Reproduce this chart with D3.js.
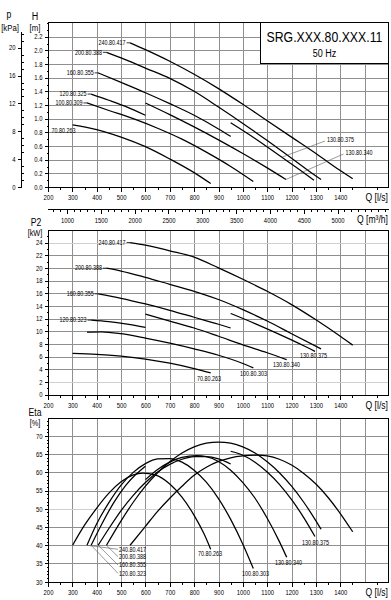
<!DOCTYPE html>
<html><head><meta charset="utf-8">
<script src="https://cdn.jsdelivr.net/npm/d3@7"></script>
<style>
html,body{margin:0;padding:0;background:#fff;}
svg{display:block;font-family:"Liberation Sans",Arial,sans-serif;}
</style></head><body>
<svg id="c" width="391" height="600"></svg>
<script>
// ---------- DATA ----------
const qTicks = [200,300,400,500,600,700,800,900,1000,1100,1200,1300,1400];
const qGrid = [300,400,500,600,700,800,900,1000,1100,1200,1300,1400,1500];
const m3hTicks = [1000,1500,2000,2500,3000,3500,4000,4500,5000];
const hTicks = [0,0.2,0.4,0.6,0.8,1.0,1.2,1.4,1.6,1.8,2.0,2.2];
const kpaTicks = [0,4,8,12,16,20];
const p2Ticks = [0,2,4,6,8,10,12,14,16,18,20,22,24];
const etaTicks = [30,35,40,45,50,55,60,65,70];

// Head H [m] vs Q [l/s]
const head_240_80_417 = [[537,2.11],[600,2.01],[700,1.84],[800,1.65],[900,1.44],[1000,1.21],[1100,0.97],[1200,0.73],[1300,0.49],[1400,0.24],[1451,0.12]];
const head_200_80_388 = [[440,1.97],[500,1.89],[600,1.74],[700,1.59],[800,1.40],[900,1.17],[1000,0.93],[1100,0.68],[1200,0.42],[1300,0.16],[1321,0.11]];
const head_160_80_355 = [[406,1.67],[500,1.53],[600,1.38],[700,1.22],[800,1.05],[900,0.85],[950,0.74]];
const head_120_80_325 = [[377,1.36],[450,1.27],[525,1.17],[600,1.05]];
const head_100_80_303 = [[360,1.23],[450,1.12],[550,1.00],[650,0.86],[750,0.70],[850,0.51],[950,0.30],[1043,0.08]];
const head_70_80_263  = [[301,0.91],[400,0.84],[500,0.73],[600,0.59],[700,0.41],[800,0.21],[868,0.05]];
const head_130_80_340 = [[600,1.23],[700,1.06],[800,0.88],[900,0.69],[1000,0.49],[1100,0.28],[1177,0.11]];
const head_130_80_375 = [[950,0.94],[1050,0.71],[1150,0.46],[1250,0.21],[1292,0.10]];

// Power P2 [kW] vs Q
const p2_240_80_417 = [[537,24.0],[600,23.6],[700,22.7],[800,21.7],[900,20.0],[1000,18.2],[1100,16.3],[1200,14.2],[1300,11.8],[1400,9.2],[1451,7.8]];
const p2_200_80_388 = [[440,19.95],[500,19.5],[600,18.5],[700,17.4],[800,16.3],[900,15.0],[1000,13.4],[1100,11.6],[1200,9.6],[1321,7.2]];
const p2_160_80_355 = [[406,15.9],[500,15.2],[600,14.3],[700,13.3],[800,12.2],[900,11.1],[950,10.5]];
const p2_120_80_323 = [[377,11.75],[450,11.5],[525,11.1],[600,10.6]];
const p2_100_80_303 = [[360,9.85],[420,9.9],[500,9.6],[600,8.9],[700,8.1],[800,7.2],[900,6.2],[1000,4.9],[1043,4.2]];
const p2_70_80_263  = [[301,6.5],[400,6.35],[500,6.05],[600,5.6],[700,4.95],[800,4.1],[868,3.4]];
const p2_130_80_340 = [[600,12.7],[700,11.6],[800,10.5],[900,9.2],[1000,7.85],[1100,6.6],[1180,5.5]];
const p2_130_80_375 = [[950,12.8],[1050,11.2],[1150,9.5],[1250,7.7],[1296,6.8]];

// Efficiency Eta [%] vs Q
const eta_240_80_417 = [[537,40],[600,45.2],[650,49.3],[700,52.9],[750,56.2],[800,59.2],[850,61.4],[900,63.0],[950,64.0],[1000,64.5],[1060,64.7],[1100,64.5],[1150,63.6],[1200,62.0],[1250,59.7],[1300,56.8],[1350,53.1],[1400,48.7],[1451,43.7]];
const eta_200_80_388 = [[440,40],[500,46.7],[550,51.8],[600,56.2],[650,59.9],[700,62.9],[750,65.3],[800,67.0],[850,68.0],[900,68.3],[950,68.0],[1000,67.0],[1050,65.3],[1100,62.9],[1150,59.9],[1200,56.2],[1250,51.8],[1300,46.7],[1321,44.4]];
const eta_160_80_355 = [[406,40],[450,44.6],[500,49.5],[550,53.7],[600,57.2],[650,60.1],[700,62.2],[750,63.6],[800,64.3],[850,64.3],[900,63.7],[950,62.3]];
const eta_120_80_323 = [[377,40],[420,45.7],[470,51.7],[520,56.5],[560,59.4],[600,61.7]];
const eta_100_80_303 = [[360,40],[400,45.9],[450,51.7],[500,56.5],[550,60.0],[600,62.4],[650,63.7],[700,63.8],[750,62.8],[800,60.6],[850,57.3],[900,52.8],[950,47.1],[1000,40.3],[1043,33.6]];
const eta_70_80_263  = [[301,40],[350,45.5],[400,50.2],[450,54.3],[500,57.4],[550,59.3],[590,59.8],[640,59.3],[700,56.8],[750,53.2],[800,48.2],[840,43.2],[868,38.9]];
const eta_130_80_340 = [[600,58.0],[650,60.8],[700,62.8],[750,64.1],[810,64.6],[850,64.3],[900,63.0],[950,60.6],[1000,57.2],[1050,52.9],[1100,47.4],[1150,41.0],[1180,36.7]];
const eta_130_80_375 = [[950,65.8],[1000,64.7],[1050,62.8],[1100,60.1],[1150,56.7],[1200,52.5],[1250,47.6],[1296,42.4]];

const title = "SRG.XXX.80.XXX.11";
const subtitle = "50 Hz";

// ---------- DRAWING ----------
const svg = d3.select("#c");
const L = 48, R = 389;
const x = d3.scaleLinear().domain([200,1600]).range([L,R]);
const xm3h = d3.scaleLinear().domain([200*3.6,1600*3.6]).range([L,R]);

const panels = {
  top: {y0:22, y1:187},
  mid: {y0:230, y1:394.5},
  bot: {y0:417.5, y1:581.7}
};
const yH = d3.scaleLinear().domain([0,2.4]).range([187,23]);
const yKpa = d3.scaleLinear().domain([0,2.4*9.81]).range([187,23]);
const yP2 = d3.scaleLinear().domain([0,26]).range([394.5,229.9]);
const yEta = d3.scaleLinear().domain([30,75]).range([581.7,417.7]);

const TICKF = 7.2, LBLF = 6.6, TITF = 10.5;
const gridC = "#8f8f8f";

function grid(p, yScale, vals, lightVals){
  const g = svg.append("g").attr("shape-rendering","crispEdges");
  g.selectAll("line.v").data(qGrid).enter().append("line")
    .attr("x1",d=>Math.round(x(d))+0.5).attr("x2",d=>Math.round(x(d))+0.5)
    .attr("y1",p.y0).attr("y2",p.y1).attr("stroke",gridC).attr("stroke-width",1);
  g.selectAll("line.h").data(vals).enter().append("line")
    .attr("x1",L).attr("x2",R)
    .attr("y1",d=>Math.round(yScale(d))+0.5).attr("y2",d=>Math.round(yScale(d))+0.5)
    .attr("stroke",d=>lightVals.includes(d)?"#cfcfcf":gridC).attr("stroke-width",1);
}
function frame(p){
  svg.append("rect").attr("x",L+0.5).attr("y",Math.round(p.y0)+0.5)
    .attr("width",R-L-1).attr("height",Math.round(p.y1)-Math.round(p.y0))
    .attr("fill","none").attr("stroke","#000").attr("stroke-width",1).attr("shape-rendering","crispEdges");
}
function styleAxis(g){
  g.selectAll("path.domain").remove();
  g.selectAll("line").attr("stroke","#000").attr("shape-rendering","crispEdges");
  g.selectAll("text").attr("font-size",TICKF).attr("fill","#000");
  g.attr("font-family",null).attr("font-size",null);
}
function xAxis(p){
  const g = svg.append("g").attr("transform",`translate(0,${Math.round(p.y1)+0.5})`)
    .call(d3.axisBottom(x).tickValues(qTicks).tickSize(4).tickPadding(3).tickFormat(d3.format("d")));
  styleAxis(g);
  const gm = svg.append("g").attr("transform",`translate(0,${Math.round(p.y1)+0.5})`)
    .call(d3.axisBottom(x).tickValues([250,350,450,550,650,750,850,950,1050,1150,1250,1350,1450,1550]).tickSize(2).tickFormat(""));
  styleAxis(gm);
  svg.append("text").attr("x",R-1).attr("y",Math.round(p.y1)+14.5).attr("text-anchor","end")
    .attr("font-size",TITF).text("Q [l/s]");
}
function yAxis(yScale, major, minor, fmt){
  const g = svg.append("g").attr("transform",`translate(${L+0.5},0)`)
    .call(d3.axisLeft(yScale).tickValues(major).tickSize(4).tickPadding(2).tickFormat(fmt));
  styleAxis(g);
  const gm = svg.append("g").attr("transform",`translate(${L+0.5},0)`)
    .call(d3.axisLeft(yScale).tickValues(minor).tickSize(2).tickFormat(""));
  styleAxis(gm);
}
const line = (ys)=> d3.line().x(d=>x(d[0])).y(d=>ys(d[1])).curve(d3.curveMonotoneX);
function curves(list, ys){
  svg.append("g").selectAll("path").data(list).enter().append("path")
    .attr("d",d=>line(ys)(d)).attr("fill","none").attr("stroke","#000").attr("stroke-width",1.25);
}
function label(txt, xx, yy, anchor){
  svg.append("text").attr("x",xx).attr("y",yy+2.3).attr("text-anchor",anchor||"start")
    .attr("font-size",LBLF).attr("fill","#000").text(txt);
}
function leader(x1,y1,x2,y2){
  svg.append("line").attr("x1",x1).attr("y1",y1).attr("x2",x2).attr("y2",y2)
    .attr("stroke","#555").attr("stroke-width",0.6);
}
function startLabel(txt, data, ys){
  const sx = x(data[0][0]), sy = ys(data[0][1]);
  svg.append("line").attr("x1",sx-3.5).attr("x2",sx).attr("y1",sy).attr("y2",sy).attr("stroke","#000").attr("stroke-width",0.8);
  label(txt, sx-4.5, sy, "end");
}

// ===== TOP PANEL =====
const pt = panels.top;
grid(pt, yH, [0.2,0.4,0.6,0.8,1.0,1.2,1.4,1.6,1.8,2.0,2.2], []);
frame(pt);
yAxis(yH, hTicks, [0.1,0.3,0.5,0.7,0.9,1.1,1.3,1.5,1.7,1.9,2.1,2.3,2.4], d3.format(".1f"));
xAxis(pt);
// kPa axis
(function(){
  const ax = 21.5;
  svg.append("line").attr("x1",ax).attr("x2",ax).attr("y1",yKpa(0)).attr("y2",yKpa(22.3)).attr("stroke","#000").attr("shape-rendering","crispEdges");
  const g = svg.append("g").attr("transform",`translate(${ax},0)`)
    .call(d3.axisLeft(yKpa).tickValues(kpaTicks).tickSize(4).tickPadding(2).tickFormat(d3.format("d")));
  styleAxis(g);
  const gm = svg.append("g").attr("transform",`translate(${ax},0)`)
    .call(d3.axisRight(yKpa).tickValues([1,2,3,5,6,7,9,10,11,13,14,15,17,18,19,21,22]).tickSize(2).tickFormat(""));
  styleAxis(gm);
})();
svg.append("text").attr("x",9).attr("y",18).attr("text-anchor","middle").attr("font-size",TITF).text("p");
svg.append("text").attr("x",10).attr("y",31.5).attr("text-anchor","middle").attr("font-size",TITF-1).text("[kPa]");
svg.append("text").attr("x",35).attr("y",20).attr("text-anchor","middle").attr("font-size",TITF+0.5).text("H");
svg.append("text").attr("x",35).attr("y",31.5).attr("text-anchor","middle").attr("font-size",TITF-1).text("[m]");
// m3/h axis
(function(){
  const ay = 209.5;
  svg.append("line").attr("x1",L).attr("x2",R).attr("y1",ay).attr("y2",ay).attr("stroke","#000").attr("shape-rendering","crispEdges");
  const g = svg.append("g").attr("transform",`translate(0,${ay})`)
    .call(d3.axisBottom(xm3h).tickValues(m3hTicks).tickSize(4).tickPadding(4).tickFormat(d3.format("d")));
  styleAxis(g);
  const minor = [800,900,1100,1200,1300,1400,1600,1700,1800,1900,2100,2200,2300,2400,2600,2700,2800,2900,3100,3200,3300,3400,3600,3700,3800,3900,4100,4200,4300,4400,4600,4700,4800,4900,5100,5200,5300,5400,5500,5600,5700];
  const gm = svg.append("g").attr("transform",`translate(0,${ay})`)
    .call(d3.axisBottom(xm3h).tickValues(minor).tickSize(2).tickFormat(""));
  styleAxis(gm);
  svg.append("text").attr("x",R-1).attr("y",ay+14).attr("text-anchor","end").attr("font-size",TITF).text("Q [m³/h]");
})();
curves([head_240_80_417,head_200_80_388,head_160_80_355,head_120_80_325,head_100_80_303,head_70_80_263,head_130_80_340,head_130_80_375], yH);
startLabel("240.80.417", head_240_80_417, yH);
startLabel("200.80.388", head_200_80_388, yH);
startLabel("160.80.355", head_160_80_355, yH);
startLabel("120.80.325", head_120_80_325, yH);
startLabel("100.80.309", head_100_80_303, yH);
label("70.80.263", 51.5, 130.5, "start");
leader(325, 141, x(1160), yH(0.435));
label("130.80.375", 327, 140);
leader(343.5, 154, x(1177), yH(0.11));
label("130.80.340", 345.5, 153);
// title box
svg.append("rect").attr("x",260.5).attr("y",22.5).attr("width",128).attr("height",41).attr("fill","#fff").attr("stroke","#000").attr("shape-rendering","crispEdges");
svg.append("text").attr("x",324.5).attr("y",42).attr("text-anchor","middle").attr("font-size",15).text(title);
svg.append("text").attr("x",324.5).attr("y",57).attr("text-anchor","middle").attr("font-size",11).text(subtitle);

// ===== MIDDLE PANEL =====
const pm = panels.mid;
grid(pm, yP2, [2,4,6,8,10,12,14,16,18,20,22,24], [2,24]);
frame(pm);
yAxis(yP2, p2Ticks, [1,3,5,7,9,11,13,15,17,19,21,23,25], d3.format("d"));
xAxis(pm);
svg.append("text").attr("x",36).attr("y",226).attr("text-anchor","middle").attr("font-size",TITF).text("P2");
svg.append("text").attr("x",35).attr("y",236).attr("text-anchor","middle").attr("font-size",TITF-1.5).text("[kW]");
curves([p2_240_80_417,p2_200_80_388,p2_160_80_355,p2_120_80_323,p2_100_80_303,p2_70_80_263,p2_130_80_340,p2_130_80_375], yP2);
startLabel("240.80.417", p2_240_80_417, yP2);
startLabel("200.80.388", p2_200_80_388, yP2);
startLabel("160.80.355", p2_160_80_355, yP2);
startLabel("120.80.323", p2_120_80_323, yP2);
label("130.80.375", 300, 355.7);
label("130.80.340", 273, 364.7);
label("100.80.303", 240, 373.7);
label("70.80.263", 197, 379);

// ===== BOTTOM PANEL =====
const pb = panels.bot;
grid(pb, yEta, [35,40,45,50,55,60,65,70], [50]);
frame(pb);
yAxis(yEta, etaTicks, [31,32,33,34,36,37,38,39,41,42,43,44,46,47,48,49,51,52,53,54,56,57,58,59,61,62,63,64,66,67,68,69,71,72,73,74], d3.format("d"));
xAxis(pb);
svg.append("text").attr("x",35).attr("y",416.5).attr("text-anchor","middle").attr("font-size",TITF).text("Eta");
svg.append("text").attr("x",35).attr("y",426.5).attr("text-anchor","middle").attr("font-size",TITF-1.5).text("[%]");
curves([eta_240_80_417,eta_200_80_388,eta_160_80_355,eta_120_80_323,eta_100_80_303,eta_70_80_263,eta_130_80_340,eta_130_80_375], yEta);
label("70.80.263", 198, 554);
label("100.80.303", 242, 573.3);
label("130.80.340", 275, 562.7);
label("130.80.375", 302, 543);
label("240.80.417", 119, 549.3);
label("200.80.388", 119, 556.7);
label("160.80.355", 119, 565);
label("120.80.323", 119, 573.3);
leader(x(eta_200_80_388[0][0]), yEta(40), 118, 556.7);
leader(x(eta_160_80_355[0][0]), yEta(40), 118, 565);
leader(x(eta_120_80_323[0][0]), yEta(40), 118, 573.3);
leader(x(eta_100_80_303[0][0]), yEta(40), 118, 549.3);

// narrow look of the original lettering: compress each text horizontally about its anchor point
const NARROW = 0.82;
svg.selectAll("text").each(function(){
  const ax = parseFloat(this.getAttribute("x") || 0);
  d3.select(this).attr("transform", `translate(${ax},0) scale(${NARROW},1) translate(${-ax},0)`);
});
</script>
</body></html>
